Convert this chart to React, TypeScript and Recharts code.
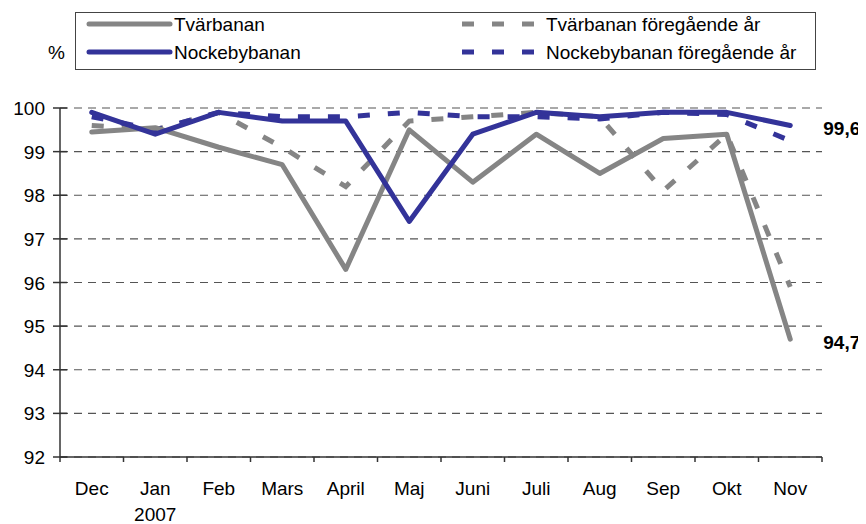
import React from 'react';
import { LineChart, Line, XAxis, YAxis, CartesianGrid, Legend } from 'recharts';

const months = ['Dec', 'Jan', 'Feb', 'Mars', 'April', 'Maj', 'Juni', 'Juli', 'Aug', 'Sep', 'Okt', 'Nov'];
const subLabels = ['', '2007', '', '', '', '', '', '', '', '', '', ''];
const tvarbanan = [99.45, 99.55, 99.1, 98.7, 96.3, 99.5, 98.3, 99.4, 98.5, 99.3, 99.4, 94.7];
const nockebybanan = [99.9, 99.4, 99.9, 99.7, 99.7, 97.4, 99.4, 99.9, 99.8, 99.9, 99.9, 99.6];
const tvarbananPrev = [99.6, 99.5, 99.9, 99.1, 98.2, 99.7, 99.8, 99.9, 99.8, 98.1, 99.4, 95.9];
const nockebybananPrev = [99.8, 99.5, 99.9, 99.8, 99.8, 99.9, 99.8, 99.8, 99.75, 99.9, 99.85, 99.25];
const yTicks = [92, 93, 94, 95, 96, 97, 98, 99, 100];

const data = months.map((m, i) => ({
  month: m,
  sub: subLabels[i],
  tvar: tvarbanan[i],
  nock: nockebybanan[i],
  tvarPrev: tvarbananPrev[i],
  nockPrev: nockebybananPrev[i],
}));

const W = 866;
const H = 524;
const M = { top: 108, right: 44, bottom: 0, left: 0 };
const Y_W = 60;
const X_H = 67;
const PLOT_W = W - M.left - M.right - Y_W;
const BAND = PLOT_W / months.length;
const FONT = '"Liberation Sans", Arial, Helvetica, sans-serif';

const GRAY = '#858585';
const BLUE = '#333399';

const XTick = (props: any) => {
  const { x, y, index } = props;
  const left = x - BAND / 2;
  const right = x + BAND / 2;
  const d = data[index];
  return (
    <g>
      <line x1={left} x2={left} y1={y} y2={y + 5} stroke="#333" strokeWidth={1.5} />
      {index === months.length - 1 && (
        <line x1={right} x2={right} y1={y} y2={y + 5} stroke="#333" strokeWidth={1.5} />
      )}
      <text x={x} y={y + 38} textAnchor="middle" fontSize={19} fontFamily={FONT} fill="#000">
        {d ? d.month : ''}
      </text>
      {d && d.sub ? (
        <text x={x} y={y + 64} textAnchor="middle" fontSize={19} fontFamily={FONT} fill="#000">
          {d.sub}
        </text>
      ) : null}
    </g>
  );
};

const YTick = (props: any) => {
  const { x, y, payload } = props;
  return (
    <g>
      <line x1={x - 7} x2={x + 7} y1={y} y2={y} stroke="#333" strokeWidth={1.5} />
      <text x={x - 15} y={y + 7} textAnchor="end" fontSize={19} fontFamily={FONT} fill="#000">
        {payload.value}
      </text>
    </g>
  );
};

const endLabel = (props: any) => {
  const { x, y, index, value } = props;
  if (index !== months.length - 1) return <g key={`l-${index}`} />;
  return (
    <text key={`l-${index}`} x={x + 33} y={y + 10} fontSize={19} fontWeight="bold" fontFamily={FONT} fill="#000">
      {String(value).replace('.', ',')}
    </text>
  );
};

const legendPos: Record<string, { x: number; y: number }> = {
  'Tvärbanan': { x: 14, y: 12 },
  'Nockebybanan': { x: 14, y: 40 },
  'Tvärbanan föregående år': { x: 387, y: 12 },
  'Nockebybanan föregående år': { x: 387, y: 40 },
};

const LegendContent = (props: any) => {
  const payload = props.payload || [];
  return (
    <svg width={741} height={58} style={{ display: 'block' }}>
      <rect x={0.5} y={0.5} width={740} height={57} fill="#fff" stroke="#444" strokeWidth={1} />
      {payload.map((e: any) => {
        const p = legendPos[e.value];
        if (!p) return null;
        const dashed = e.value.indexOf('föregående') >= 0;
        return (
          <g key={e.value}>
            {dashed ? (
              <line x1={p.x} x2={p.x + 72} y1={p.y} y2={p.y} stroke={e.color} strokeWidth={5} strokeDasharray="12 18" />
            ) : (
              <line x1={p.x} x2={p.x + 81} y1={p.y} y2={p.y} stroke={e.color} strokeWidth={5} strokeLinecap="round" />
            )}
            <text x={dashed ? p.x + 84 : p.x + 85} y={p.y + 7} fontSize={19} fontFamily={FONT} fill="#000">
              {e.value}
            </text>
          </g>
        );
      })}
    </svg>
  );
};

export default function App() {
  return (
    <div style={{ position: 'relative', width: W, height: H, margin: '-8px 0 0 -8px', fontFamily: FONT, background: '#fff' }}>
      <div style={{ position: 'absolute', left: 48, top: 42, fontSize: 19, fontFamily: FONT, color: '#000' }}>%</div>
      <LineChart width={W} height={H} data={data} margin={M}>
        <CartesianGrid horizontal vertical={false} stroke="#555" strokeDasharray="8 6" strokeWidth={1.2} />
        <XAxis
          dataKey="month"
          height={X_H}
          interval={0}
          padding={{ left: BAND / 2, right: BAND / 2 }}
          tickLine={false}
          tickSize={0}
          tickMargin={0}
          axisLine={{ stroke: '#333', strokeWidth: 1.5 }}
          tick={<XTick />}
        />
        <YAxis
          width={Y_W}
          domain={[92, 100]}
          ticks={yTicks}
          interval={0}
          tickLine={false}
          tickSize={0}
          tickMargin={0}
          axisLine={{ stroke: '#333', strokeWidth: 1.5 }}
          tick={<YTick />}
        />
        <Legend
          layout="horizontal"
          verticalAlign="middle"
          align="center"
          content={<LegendContent />}
          wrapperStyle={{ position: 'absolute', left: 75, top: 12, width: 741, height: 58 }}
        />
        <Line
          name="Tvärbanan föregående år"
          dataKey="tvarPrev"
          stroke={GRAY}
          strokeWidth={5}
          strokeDasharray="12 18"
          dot={false}
          activeDot={false}
          isAnimationActive={false}
        />
        <Line
          name="Nockebybanan föregående år"
          dataKey="nockPrev"
          stroke={BLUE}
          strokeWidth={5}
          strokeDasharray="12 18"
          dot={false}
          activeDot={false}
          isAnimationActive={false}
        />
        <Line
          name="Tvärbanan"
          dataKey="tvar"
          stroke={GRAY}
          strokeWidth={5}
          strokeLinecap="round"
          strokeLinejoin="round"
          dot={false}
          activeDot={false}
          label={endLabel}
          isAnimationActive={false}
        />
        <Line
          name="Nockebybanan"
          dataKey="nock"
          stroke={BLUE}
          strokeWidth={5}
          strokeLinecap="round"
          strokeLinejoin="round"
          dot={false}
          activeDot={false}
          label={endLabel}
          isAnimationActive={false}
        />
      </LineChart>
    </div>
  );
}
